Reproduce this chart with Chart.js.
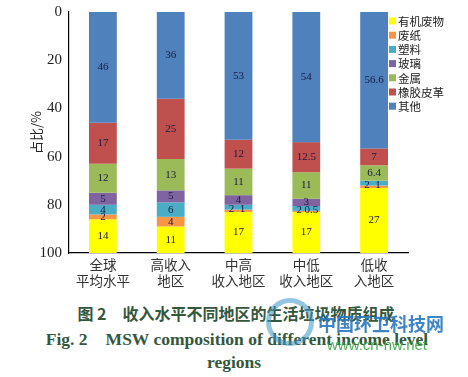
<!DOCTYPE html>
<html><head><meta charset="utf-8">
<script src="https://cdn.jsdelivr.net/npm/chart.js@4/dist/chart.umd.min.js"></script>
<style>
html,body{margin:0;padding:0;background:#fff;width:468px;height:377px;overflow:hidden;}
#wrap{position:relative;width:468px;height:300px;}
.cap{position:absolute;left:0;width:468px;text-align:center;color:#35573c;font-weight:bold;white-space:nowrap;}
#c1{top:301px;font-family:"Noto Sans CJK SC";font-size:16px;left:2px;}
#c2{top:327px;font-family:"Liberation Serif";font-size:17.5px;left:3px;}
#c3{top:352px;font-family:"Liberation Serif";font-size:17.5px;}
#wm1{position:absolute;left:318px;top:310px;font-family:"Noto Sans CJK SC";font-weight:bold;font-size:18px;color:#2a78c0;opacity:0.9;}
#wm2{position:absolute;left:327px;top:336px;font-family:"Liberation Sans";font-size:15px;color:#3aa845;opacity:0.9;}
#logo{position:absolute;left:266px;top:298px;width:48px;height:48px;border-radius:50%;border:5px solid rgba(60,150,200,0.55);box-sizing:border-box;}
</style></head>
<body>
<div id="wrap"><canvas id="cv" width="468" height="300"></canvas></div>
<div class="cap" id="c1">图 2　收入水平不同地区的生活垃圾物质组成</div>
<div class="cap" id="c2">Fig. 2　MSW composition of different income level</div>
<div class="cap" id="c3">regions</div>
<div id="logo"></div>
<div id="wm1">中国环卫科技网</div>
<div id="wm2">www.cn-hw.net</div>
<script>
const categories = [["全球","平均水平"],["高收入","地区"],["中高","收入地区"],["中低","收入地区"],["低收","入地区"]];
const organic = [14, 11, 17, 17, 27];
const paper   = [2, 4, 1, 0.5, 1];
const plastic = [4, 6, 2, 2, 2];
const glass   = [5, 5, 4, 3, null];
const metal   = [12, 13, 11, 11, 6.4];
const rubber  = [17, 25, 12, 12.5, 7];
const other   = [46, 36, 53, 54, 56.6];
const seriesNames = ["有机废物","废纸","塑料","玻璃","金属","橡胶皮革","其他"];
const yTicks = [0, 20, 40, 60, 80, 100];
const yTitle = "占比/%";

const colors = ["#ffff00","#f79646","#4bacc6","#8064a2","#9bbb59","#c0504d","#4f81bd"];
const allData = [organic, paper, plastic, glass, metal, rubber, other];

// stacking starts at 0 (top of the reversed axis) with 其他, so datasets go in reverse order
const order = [6, 5, 4, 3, 2, 1, 0];

const labelPlugin = {
  id: 'vlabels',
  afterDatasetsDraw(chart) {
    const ctx = chart.ctx;
    ctx.save();
    ctx.font = '11px "Liberation Serif"';
    ctx.fillStyle = '#1a1a40';
    ctx.textAlign = 'center';
    ctx.textBaseline = 'middle';
    const idxOf = name => chart.data.datasets.findIndex(d => d.label === name);
    const pIdx = idxOf("废纸"), tIdx = idxOf("塑料");
    chart.data.datasets.forEach((ds, di) => {
      const meta = chart.getDatasetMeta(di);
      meta.data.forEach((bar, i) => {
        const v = ds.data[i];
        if (v === null || v === undefined) return;
        let x = bar.x;
        let y = (bar.y + bar.base) / 2;
        const small = paper[i] < 2 && plastic[i] <= 2;
        if (small && (di === pIdx || di === tIdx)) {
          const pb = chart.getDatasetMeta(pIdx).data[i], tb = chart.getDatasetMeta(tIdx).data[i];
          const top = Math.min(tb.y, tb.base), bot = Math.max(pb.y, pb.base);
          y = (top + bot) / 2 + 1;
          if (di === tIdx) x -= 7; else x += (paper[i] < 1 ? 5 : 4);
        }
        ctx.fillText(String(v), x, y);
      });
    });
    // legend
    ctx.font = '11.5px "Noto Sans CJK SC"';
    ctx.textAlign = 'left';
    for (let k = 0; k < seriesNames.length; k++) {
      const ly = 21 + k * 14.2;
      ctx.fillStyle = colors[k];
      ctx.fillRect(389, ly - 3.5, 7, 7);
      ctx.fillStyle = '#222';
      ctx.fillText(seriesNames[k], 398, ly + 0.5);
    }
    // y axis title
    const ca = chart.chartArea;
    ctx.translate(36, (ca.top + ca.bottom) / 2);
    ctx.rotate(-Math.PI / 2);
    ctx.textAlign = 'center';
    ctx.font = '13px "Noto Sans CJK SC"';
    ctx.fillStyle = '#222';
    ctx.fillText(yTitle, 0, 0);
    ctx.restore();
  }
};

new Chart(document.getElementById('cv'), {
  type: 'bar',
  data: {
    labels: categories,
    datasets: order.map(k => ({
      label: seriesNames[k], data: allData[k], backgroundColor: colors[k], borderWidth: 0,
      categoryPercentage: 1, barPercentage: 0.41
    }))
  },
  options: {
    responsive: false, animation: false,
    layout: { padding: { top: 4, right: 60, left: 0, bottom: 0 } },
    plugins: { legend: { display: false }, tooltip: { enabled: false } },
    scales: {
      x: {
        stacked: true,
        grid: { display: false, drawTicks: false },
        border: { color: '#000', width: 1.2 },
        ticks: { color: '#333', font: { family: '"Noto Sans CJK SC"', size: 13.5 }, padding: 4, maxRotation: 0 },
        afterFit(s) { s.height = 47; }
      },
      y: {
        stacked: true, reverse: true, min: 0, max: 100,
        afterBuildTicks(s) { s.ticks = yTicks.map(v => ({ value: v })); },
        grid: { display: false, drawOnChartArea: false, drawTicks: true, tickLength: 4, tickColor: '#000' },
        border: { color: '#000', width: 1.2 },
        ticks: { color: '#222', font: { family: '"Liberation Serif"', size: 15 }, padding: 3 },
        title: { display: false },
        afterFit(s) { s.width = 69; }
      }
    }
  },
  plugins: [labelPlugin]
});
</script>
</body></html>
